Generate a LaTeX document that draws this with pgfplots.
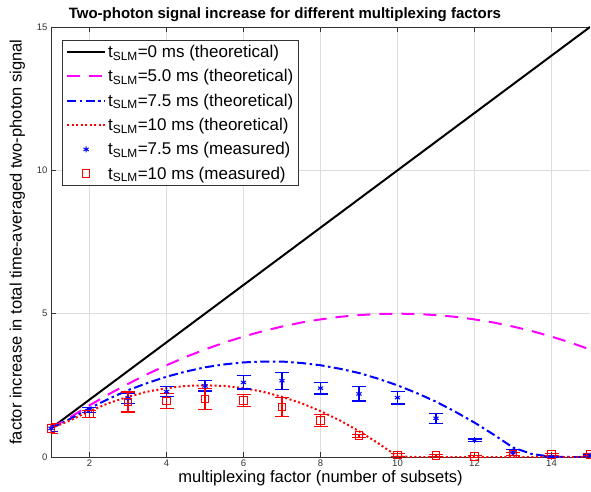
\documentclass[border=0pt]{standalone}
\usepackage{pgfplots}
\usepackage{pgfplotstable}
\pgfplotsset{compat=1.18}
\usepackage{fontspec}
\setmainfont{Liberation Sans}

\pgfplotstableread{
x y e
1 1.00 0.10
2 1.64 0.09
3 2.05 0.18
4 2.28 0.18
5 2.48 0.18
6 2.60 0.23
7 2.66 0.30
8 2.40 0.20
9 2.20 0.25
10 2.07 0.22
11 1.35 0.17
12 0.59 0.04
13 0.15 0.11
14 0.01 0.02
15 0.05 0.03
}\measblue

\pgfplotstableread{
x y e
1 1.00 0.18
2 1.50 0.13
3 1.92 0.35
4 1.96 0.26
5 2.03 0.37
6 1.98 0.21
7 1.75 0.33
8 1.27 0.22
9 0.74 0.05
10 0.07 0.05
11 0.05 0.04
12 0.02 0.03
13 0.10 0.05
14 0.09 0.04
15 0.09 0.04
}\measred

\definecolor{tickgray}{gray}{0.2}
\definecolor{gridgray}{gray}{0.87}
\definecolor{mmag}{RGB}{255,0,255}
\definecolor{mblue}{RGB}{0,0,255}
\definecolor{mred}{RGB}{255,0,0}

\begin{document}
\begin{tikzpicture}
\begin{axis}[
    scale only axis,
    width=539pt, height=430pt,
    xmin=1, xmax=15, ymin=0, ymax=15,
    xtick={2,4,...,14}, ytick={0,5,10,15},
    axis y line*=left,
    tick align=inside,
    major tick length=5pt,
    tick style={tickgray, line width=0.6pt},
    axis line style={tickgray, line width=0.8pt},
    grid=major,
    major grid style={gridgray, line width=0.6pt},
    /pgf/number format/assume math mode=true,
    tick label style={font=\fontsize{9.5}{11}\selectfont, text=tickgray},
    xticklabel style={yshift=1pt},
    title={\bfseries Two-photon signal increase for different multiplexing factors},
    title style={font=\fontsize{15}{18}\selectfont, at={(rel axis cs:0.434,1)}, anchor=south, yshift=-4pt},
    xlabel={multiplexing factor (number of subsets)},
    ylabel={factor increase in total time-averaged two-photon signal},
    label style={font=\fontsize{16.5}{19}\selectfont},
    xlabel style={yshift=3pt},
    ylabel style={yshift=5pt},
    legend style={at={(rel axis cs:0.021,0.97)}, anchor=north west,
        draw=tickgray, line width=0.6pt, fill=white,
        font=\fontsize{17}{19}\selectfont, row sep=6.5pt,
        inner xsep=3.5pt, inner ysep=3pt},
    legend cell align=left,
    legend image code/.code={%
        \draw[mark repeat=2, mark phase=2, #1] plot coordinates {(0pt,0pt) (19pt,0pt) (38pt,0pt)};},
]
\addplot[black, line width=2pt] coordinates {(1,1) (15,15)};
\addlegendentry{t\textsubscript{SLM}=0 ms (theoretical)}

\addplot[mmag, line width=2pt, dash pattern=on 13pt off 9pt] coordinates {
(1,1.00) (1.5,1.39) (2,1.80) (2.5,2.19) (3,2.55) (3.5,2.89) (4,3.20) (4.5,3.49)
(5,3.75) (5.5,3.99) (6,4.20) (6.5,4.39) (7,4.55) (7.5,4.69) (8,4.80) (8.5,4.89)
(9,4.95) (9.5,4.99) (10,5.00) (10.5,4.99) (11,4.95) (11.5,4.89) (12,4.80)
(12.5,4.69) (13,4.55) (13.5,4.39) (14,4.20) (14.5,3.99) (15,3.75)};
\addlegendentry{t\textsubscript{SLM}=5.0 ms (theoretical)}

\addplot[mblue, line width=2pt, dash pattern=on 9pt off 3.5pt on 2.5pt off 3.5pt] coordinates {
(1,1.00) (1.5,1.33) (2,1.70) (2.5,2.03) (3,2.33) (3.5,2.58) (4,2.80) (4.5,2.98)
(5,3.13) (5.5,3.23) (6,3.30) (6.5,3.33) (7,3.33) (7.5,3.28) (8,3.20) (8.5,3.08)
(9,2.93) (9.5,2.73) (10,2.50) (10.5,2.23) (11,1.93) (11.5,1.58) (12,1.20)
(12.5,0.78) (13,0.33) (13.5,0.10) (14,0.01) (14.5,0) (15,0)};
\addlegendentry{t\textsubscript{SLM}=7.5 ms (theoretical)}

\addplot[mred, line width=2pt, dash pattern=on 2pt off 2.5pt] coordinates {
(1,1.00) (1.5,1.28) (2,1.60) (2.5,1.88) (3,2.10) (3.5,2.28) (4,2.40) (4.5,2.48)
(5,2.50) (5.5,2.48) (6,2.40) (6.5,2.28) (7,2.10) (7.5,1.88) (8,1.60) (8.5,1.28)
(9,0.90) (9.5,0.48) (10,0.02) (10.5,0) (11,0) (12,0) (13,0) (14,0) (15,0)};
\addlegendentry{t\textsubscript{SLM}=10 ms (theoretical)}

\addplot[mblue, only marks, mark=asterisk, mark size=3pt, line width=1pt,
    error bars/.cd, y dir=both, y explicit,
    error bar style={mblue, line width=1.2pt},
    error mark options={mblue, rotate=90, mark size=7pt, line width=1.2pt}]
    table[x=x, y=y, y error=e] {\measblue};
\addlegendentry{t\textsubscript{SLM}=7.5 ms (measured)}

\addplot[mred, only marks, mark=square, mark size=3.8pt, line width=1pt,
    error bars/.cd, y dir=both, y explicit,
    error bar style={mred, line width=1.2pt},
    error mark options={mred, rotate=90, mark size=7pt, line width=1.2pt}]
    table[x=x, y=y, y error=e] {\measred};
\addlegendentry{t\textsubscript{SLM}=10 ms (measured)}
\end{axis}
\pgfresetboundingbox
\useasboundingbox (-51pt,-35pt) rectangle (540pt,457pt);
\end{tikzpicture}
\end{document}
